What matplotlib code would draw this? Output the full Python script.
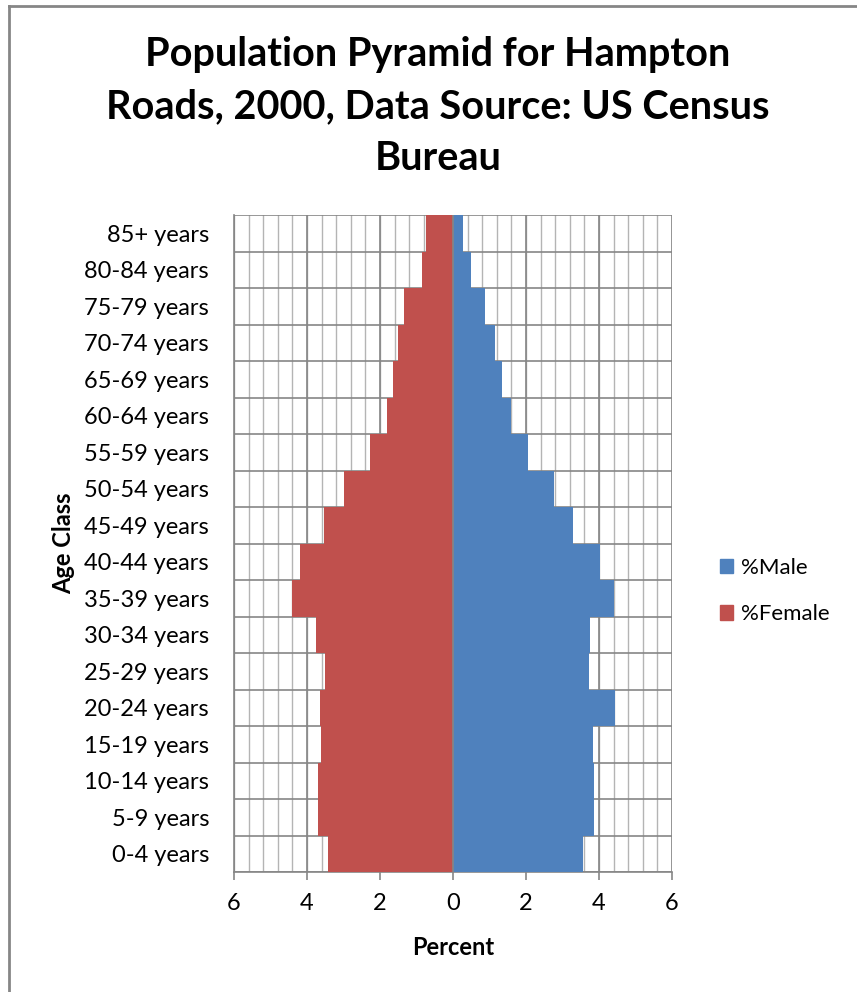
import matplotlib.pyplot as plt
import numpy as np
from matplotlib.lines import Line2D
from matplotlib.patches import Patch

# Age classes, bottom to top
age_classes = ["0-4 years", "5-9 years", "10-14 years", "15-19 years", "20-24 years",
               "25-29 years", "30-34 years", "35-39 years", "40-44 years", "45-49 years",
               "50-54 years", "55-59 years", "60-64 years", "65-69 years", "70-74 years",
               "75-79 years", "80-84 years", "85+ years"]

# Percent of population
pct_male = [3.56, 3.85, 3.86, 3.84, 4.45, 3.73, 3.75, 4.40, 4.02, 3.30,
            2.76, 2.05, 1.60, 1.35, 1.15, 0.89, 0.48, 0.27]
pct_female = [3.43, 3.70, 3.70, 3.61, 3.65, 3.50, 3.74, 4.40, 4.19, 3.54,
              2.99, 2.28, 1.80, 1.64, 1.50, 1.33, 0.84, 0.75]

x_ticks = [-6, -4, -2, 0, 2, 4, 6]

male_color = "#4F81BD"
female_color = "#C0504D"

plt.rcParams["font.family"] = ["Lato", "DejaVu Sans"]

fig = plt.figure(figsize=(8.57, 9.92), dpi=100)
ax = fig.add_axes([234 / 857, 1 - 872 / 992, (672 - 234) / 857, (872 - 215) / 992])

y = np.arange(len(age_classes))
ax.barh(y, pct_male, height=1.0, color=male_color, zorder=3, label="%Male")
ax.barh(y, -np.array(pct_female), height=1.0, color=female_color, zorder=3, label="%Female")

ax.set_xlim(-6, 6)
ax.set_ylim(-0.5, len(age_classes) - 0.5)

# grid: minor every 0.4, major every 2, horizontal at category boundaries
for xv in np.arange(-6, 6.01, 0.4):
    ax.axvline(xv, color="#b4b4b4", lw=1.0, zorder=1)
for xv in x_ticks:
    ax.axvline(xv, color="#868686", lw=1.2, zorder=2)
for yv in np.arange(-0.5, len(age_classes), 1.0):
    ax.axhline(yv, color="#868686", lw=1.2, zorder=2)
ax.axvline(0, color="#868686", lw=1.2, zorder=4)

ax.set_xticks(x_ticks)
ax.set_xticklabels([str(abs(v)) for v in x_ticks], fontsize=17)
ax.set_yticks(y)
ax.set_yticklabels(age_classes, fontsize=17)
ax.tick_params(axis="y", length=0, pad=18)
ax.tick_params(axis="x", length=6, color="#868686", width=1.2, pad=9)
for s in ["top", "right"]:
    ax.spines[s].set_visible(False)
ax.spines["left"].set_color("#868686")
ax.spines["bottom"].set_color("#868686")
ax.spines["left"].set_linewidth(1.2)
ax.spines["bottom"].set_linewidth(1.2)

ax.set_xlabel("Percent", fontsize=17, fontweight="bold", labelpad=16)
ax.set_ylabel("Age Class", fontsize=17, fontweight="bold", labelpad=6)

fig.text(0.511, 1 - 36 / 992, "Population Pyramid for Hampton\nRoads, 2000, Data Source: US Census\nBureau",
         ha="center", va="top", fontsize=28.5, fontweight="bold", linespacing=1.5)

handles = [Patch(color=male_color), Patch(color=female_color)]
fig.legend(handles, ["%Male", "%Female"], loc="center left",
           bbox_to_anchor=(700 / 857, 1 - 591 / 992), frameon=False, fontsize=16,
           handlelength=0.6, handleheight=0.6, handletextpad=0.35, labelspacing=1.2)

# chart area border (left and top edges visible)
fig.add_artist(Line2D([8.5 / 857, 8.5 / 857], [0, 1 - 5.5 / 992], color="#868686", lw=2,
                      transform=fig.transFigure))
fig.add_artist(Line2D([8.5 / 857, 1], [1 - 5.5 / 992, 1 - 5.5 / 992], color="#868686", lw=2,
                      transform=fig.transFigure))

fig.savefig("out.png", dpi=100)
